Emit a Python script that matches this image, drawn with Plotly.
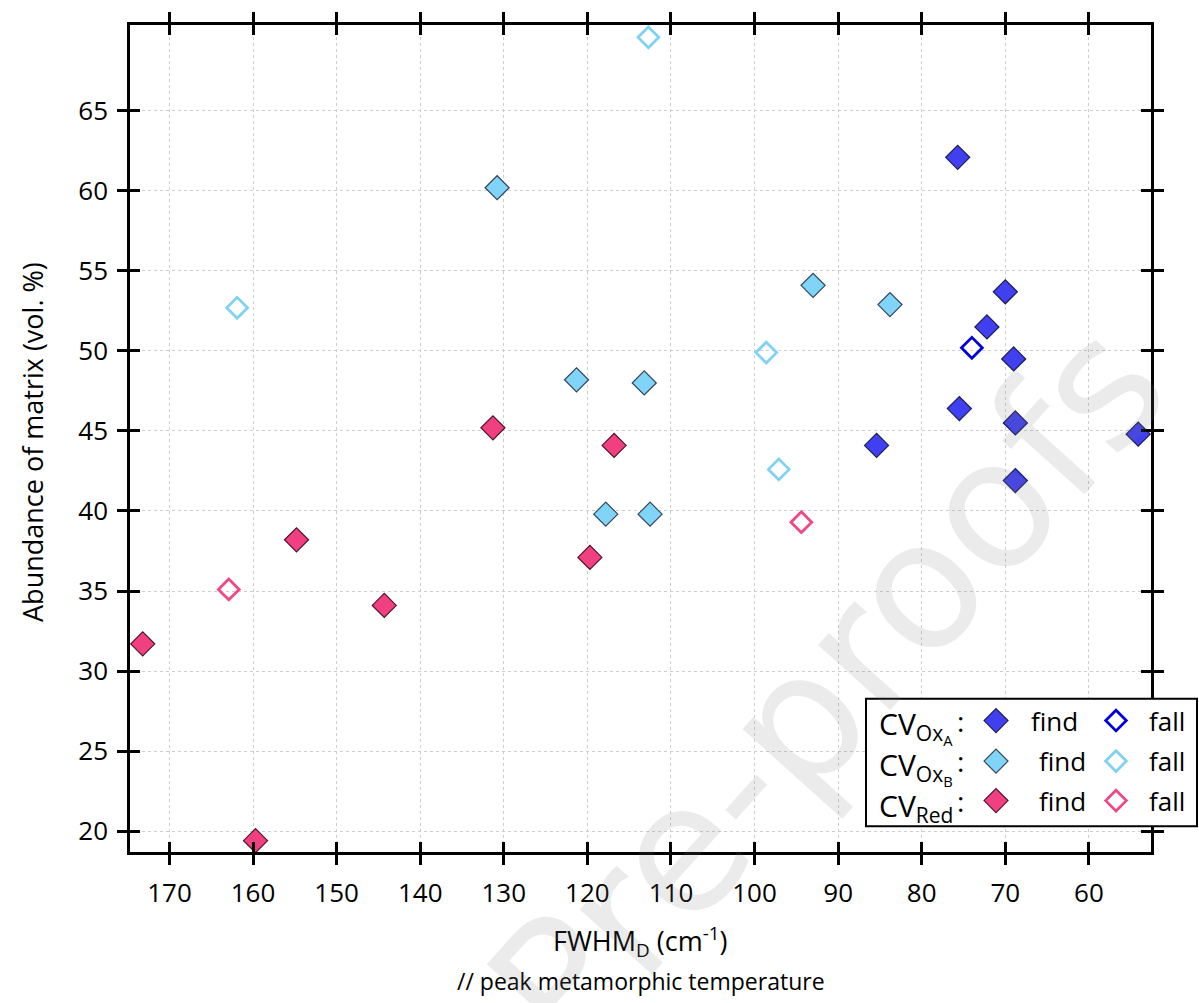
import plotly.graph_objects as go

# ---- data (FWHM_D in cm^-1, matrix abundance in vol.%) ----
oxa_find_x = [75.7, 70.0, 72.2, 69.0, 75.5, 68.8, 54.1, 85.4, 68.8]
oxa_find_y = [62.1, 53.7, 51.5, 49.5, 46.4, 45.5, 44.8, 44.1, 41.9]
oxa_fall_x = [74.0]
oxa_fall_y = [50.2]

oxb_find_x = [130.8, 93.0, 83.8, 121.3, 113.2, 117.8, 112.5]
oxb_find_y = [60.2, 54.1, 52.9, 48.2, 48.0, 39.8, 39.8]
oxb_fall_x = [112.7, 161.9, 98.6, 97.1]
oxb_fall_y = [69.6, 52.7, 49.9, 42.6]

red_find_x = [131.3, 116.8, 154.8, 119.7, 144.3, 173.2, 159.7]
red_find_y = [45.2, 44.1, 38.2, 37.1, 34.1, 31.7, 19.4]
red_fall_x = [162.9, 94.4]
red_fall_y = [35.1, 39.3]

x_ticks = [170, 160, 150, 140, 130, 120, 110, 100, 90, 80, 70, 60]
y_ticks = [20, 25, 30, 35, 40, 45, 50, 55, 60, 65]

# ---- styles ----
C_A = "rgb(64,64,240)"
C_A_OPEN = "rgb(0,0,225)"
C_B = "rgb(128,212,248)"
C_B_OPEN = "rgb(128,210,245)"
C_R = "rgb(240,64,130)"
C_R_OPEN = "rgb(240,72,135)"
EDGE_A = "rgb(30,30,80)"
EDGE_B = "rgb(50,70,90)"
EDGE_R = "rgb(80,20,45)"
FONT = "Open Sans"

W, H = 1199, 1003
L, R, T, B = 130, 48, 15, 151
PW, PH = W - L - R, H - T - B


def px(x):
    return (x - L) / PW


def py(y):
    return (H - B - y) / PH


fig = go.Figure()


def filled(xs, ys, fill, edge):
    fig.add_trace(go.Scatter(x=xs, y=ys, mode="markers", showlegend=False,
                             marker=dict(symbol="diamond", size=18.5, color=fill,
                                         line=dict(color=edge, width=1.2))))


def hollow(xs, ys, col):
    fig.add_trace(go.Scatter(x=xs, y=ys, mode="markers", showlegend=False,
                             marker=dict(symbol="diamond-open", size=16, color=col,
                                         line=dict(color=col, width=2.8))))


filled(red_find_x, red_find_y, C_R, EDGE_R)
hollow(red_fall_x, red_fall_y, C_R_OPEN)
filled(oxb_find_x, oxb_find_y, C_B, EDGE_B)
hollow(oxb_fall_x, oxb_fall_y, C_B_OPEN)
filled(oxa_find_x, oxa_find_y, C_A, EDGE_A)
hollow(oxa_fall_x, oxa_fall_y, C_A_OPEN)

# invisible trace for the overlay axes (inside half of crossing ticks)
fig.add_trace(go.Scatter(x=[100], y=[40], xaxis="x2", yaxis="y2", mode="markers",
                         marker=dict(opacity=0), showlegend=False, hoverinfo="skip"))

XR = [174.72, 52.57]
YR = [18.69, 70.37]

common = dict(ticklen=10, tickwidth=2.6, tickcolor="black", linecolor="black",
              linewidth=2.6, zeroline=False)

fig.update_layout(
    width=W, height=H,
    margin=dict(l=L, r=R, t=T, b=B),
    paper_bgcolor="white", plot_bgcolor="white",
    font=dict(family=FONT, color="black"),
    showlegend=False,
    xaxis=dict(range=XR, tickvals=x_ticks, ticks="outside", mirror="ticks",
               showline=True, showgrid=True, gridcolor="rgb(205,205,205)",
               griddash="dot", gridwidth=1, tickfont=dict(size=26, family=FONT),
               ticklabelstandoff=6, **common),
    yaxis=dict(range=YR, tickvals=y_ticks, ticks="outside", mirror="ticks",
               showline=True, showgrid=True, gridcolor="rgb(205,205,205)",
               griddash="dot", gridwidth=1, tickfont=dict(size=26, family=FONT),
               ticklabelstandoff=4, **common),
    xaxis2=dict(range=XR, overlaying="x", tickvals=x_ticks, ticks="inside",
                mirror="ticks", showline=False, showgrid=False,
                showticklabels=False, ticklen=10, tickwidth=2.6, tickcolor="black",
                zeroline=False),
    yaxis2=dict(range=YR, overlaying="y", tickvals=y_ticks, ticks="inside",
                mirror="ticks", showline=False, showgrid=False,
                showticklabels=False, ticklen=10, tickwidth=2.6, tickcolor="black",
                zeroline=False),
)

ann = []
# axis titles
ann.append(dict(text="Abundance of matrix (vol. %)", x=px(33), y=py(437),
                xref="paper", yref="paper", textangle=-90, showarrow=False,
                font=dict(size=27, family=FONT), xanchor="center", yanchor="middle"))
ann.append(dict(text="FWHM<sub>D</sub> (cm<sup>-1</sup>)", x=0.5, y=py(943),
                xref="paper", yref="paper", showarrow=False,
                font=dict(size=27, family=FONT), xanchor="center", yanchor="middle"))
ann.append(dict(text="// peak metamorphic temperature", x=0.5, y=py(983),
                xref="paper", yref="paper", showarrow=False,
                font=dict(size=23, family=FONT), xanchor="center", yanchor="middle"))

# watermark
ann.append(dict(text="Pre-proofs", x=px(828), y=py(686), xref="paper", yref="paper",
                textangle=-48, showarrow=False,
                font=dict(size=178, family="DejaVu Sans", color="rgba(120,120,120,0.15)"),
                xanchor="center", yanchor="middle"))

shapes = []
# legend box
shapes.append(dict(type="rect", xref="paper", yref="paper",
                   x0=px(866), x1=px(1197), y0=py(826), y1=py(697),
                   line=dict(color="black", width=2), fillcolor="white", layer="above"))

rows = [
    ("CV<sub>Ox<sub>A</sub></sub>", C_A, EDGE_A, C_A_OPEN, 719, 1029),
    ("CV<sub>Ox<sub>B</sub></sub>", C_B, EDGE_B, C_B_OPEN, 760, 1037),
    ("CV<sub>Red</sub>", C_R, EDGE_R, C_R_OPEN, 800, 1037),
]
for label, fill, edge, opencol, ry, fx in rows:
    ann.append(dict(text=label, x=px(877), y=py(ry + 6), xref="paper", yref="paper",
                    showarrow=False, font=dict(size=30, family=FONT),
                    xanchor="left", yanchor="middle"))
    ann.append(dict(text=":", x=px(960), y=py(ry), xref="paper", yref="paper",
                    showarrow=False, font=dict(size=28, family=FONT),
                    xanchor="center", yanchor="middle"))
    ann.append(dict(text="find", x=px(fx), y=py(ry), xref="paper", yref="paper",
                    showarrow=False, font=dict(size=26, family=FONT),
                    xanchor="left", yanchor="middle"))
    ann.append(dict(text="fall", x=px(1147), y=py(ry), xref="paper", yref="paper",
                    showarrow=False, font=dict(size=26, family=FONT),
                    xanchor="left", yanchor="middle"))
    shapes.append(dict(type="path", xref="paper", yref="paper",
                       xsizemode="pixel", ysizemode="pixel",
                       xanchor=px(996), yanchor=py(ry),
                       path="M -12 0 L 0 12 L 12 0 L 0 -12 Z",
                       fillcolor=fill, line=dict(color=edge, width=1.2), layer="above"))
    shapes.append(dict(type="path", xref="paper", yref="paper",
                       xsizemode="pixel", ysizemode="pixel",
                       xanchor=px(1116), yanchor=py(ry),
                       path="M -10.3 0 L 0 10.3 L 10.3 0 L 0 -10.3 Z",
                       fillcolor="rgba(0,0,0,0)", line=dict(color=opencol, width=2.8),
                       layer="above"))

fig.update_layout(annotations=ann, shapes=shapes)
fig.write_html("out.html", config={"displayModeBar": False},
               post_script="document.body.style.margin='0';document.body.style.overflow='hidden';")
